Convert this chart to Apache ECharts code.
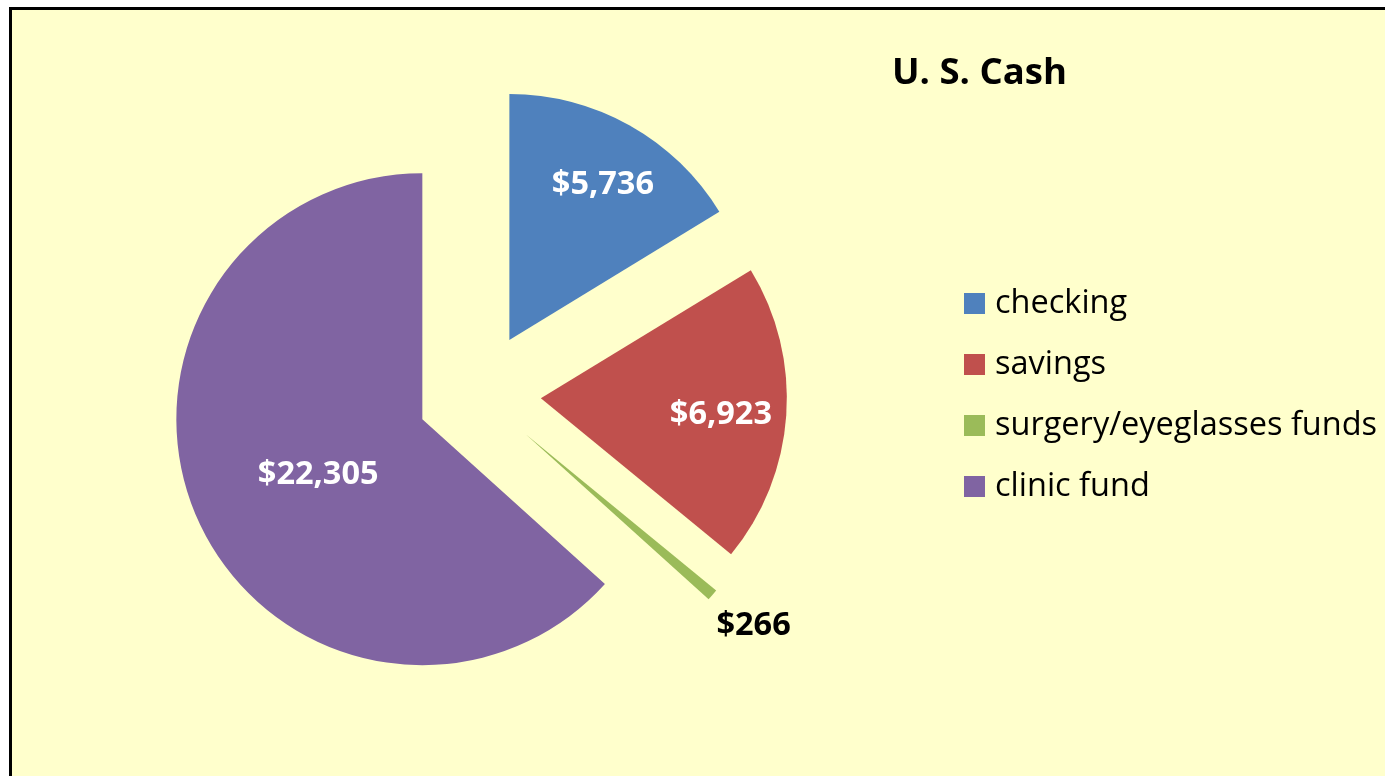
<!DOCTYPE html>
<html>
<head>
<meta charset="utf-8">
<script src="https://cdn.jsdelivr.net/npm/echarts@6/dist/echarts.min.js"></script>
<style>
  html, body { margin: 0; padding: 0; background: #ffffff; overflow: hidden; }
  #frame { position: absolute; left: 9px; top: 7px; width: 1420px; height: 820px;
           border: 3px solid #000; background: #FFFFCC; box-sizing: border-box; }
  #chart { position: absolute; left: 0; top: 0; width: 1385px; height: 776px; }
</style>
</head>
<body>
<div id="frame"></div>
<div id="chart"></div>
<script>
const categories = ['checking', 'savings', 'surgery/eyeglasses funds', 'clinic fund'];
const values = [5736, 6923, 266, 22305];
const colors = ['#4F81BD', '#C0504D', '#9BBB59', '#8064A2'];
const titleText = 'U. S. Cash';

const FONT = '"Open Sans", "Liberation Sans", sans-serif';
const center = [479, 394];
const R = 246;
const OFFSET = 62;
// fine label nudges (pixels, x/y) per slice, applied through text padding
const NUDGE = [[3.5, 5.5], [-3.5, 3.5], [1, -4], [5.5, 6.5]];

function fmt(v) { return '$' + v.toLocaleString('en-US'); }

function nudgePadding(n) {
  const dx = n[0], dy = n[1];
  return [dy > 0 ? 2 * dy : 0, dx < 0 ? -2 * dx : 0, dy < 0 ? -2 * dy : 0, dx > 0 ? 2 * dx : 0];
}

function baseData(showIdx, labelColor) {
  return categories.map((c, i) => ({
    name: c,
    value: values[i],
    selected: true,
    label: { show: showIdx.indexOf(i) >= 0, color: labelColor, padding: nudgePadding(NUDGE[i]) }
  }));
}

function labelSeries(radius, showIdx, labelColor) {
  return {
    type: 'pie',
    center: center,
    radius: radius,
    startAngle: 90,
    clockwise: true,
    selectedMode: 'multiple',
    selectedOffset: OFFSET,
    silent: true,
    avoidLabelOverlap: false,
    itemStyle: { color: 'rgba(0,0,0,0)', borderWidth: 0 },
    emphasis: { disabled: true },
    labelLine: { show: false },
    label: {
      position: 'inside',
      fontFamily: FONT,
      fontWeight: 'bold',
      fontSize: 32.5,
      formatter: p => '{v|' + fmt(p.value) + '}',
      rich: { v: { fontFamily: FONT, fontWeight: 'bold', fontSize: 32.5 } }
    },
    data: baseData(showIdx, labelColor)
  };
}

const chart = echarts.init(document.getElementById('chart'), null, { renderer: 'canvas' });
chart.setOption({
  animation: false,
  backgroundColor: 'transparent',
  color: colors,
  title: {
    text: titleText,
    left: 887,
    top: 50,
    padding: 5,
    textStyle: { fontFamily: FONT, fontWeight: 'bold', fontSize: 36.5, color: '#000' }
  },
  legend: {
    orient: 'vertical',
    left: 964,
    top: 287,
    padding: 0,
    icon: 'rect',
    itemWidth: 21,
    itemHeight: 21,
    itemGap: 28,
    selectedMode: false,
    data: categories,
    textStyle: { fontFamily: FONT, fontSize: 32.5, color: '#000', lineHeight: 30, padding: [0, 0, 0, 5] }
  },
  series: [
    {
      type: 'pie',
      center: center,
      radius: [0, R],
      startAngle: 90,
      clockwise: true,
      selectedMode: 'multiple',
      selectedOffset: OFFSET,
      avoidLabelOverlap: false,
      itemStyle: { borderWidth: 0 },
      label: { show: false },
      labelLine: { show: false },
      emphasis: { disabled: true },
      data: categories.map((c, i) => ({ name: c, value: values[i], selected: true }))
    },
    labelSeries([116, R], [0, 1], '#ffffff'),
    labelSeries([0, 234], [3], '#ffffff'),
    labelSeries([R, 346], [2], '#000000')
  ]
});
</script>
</body>
</html>
